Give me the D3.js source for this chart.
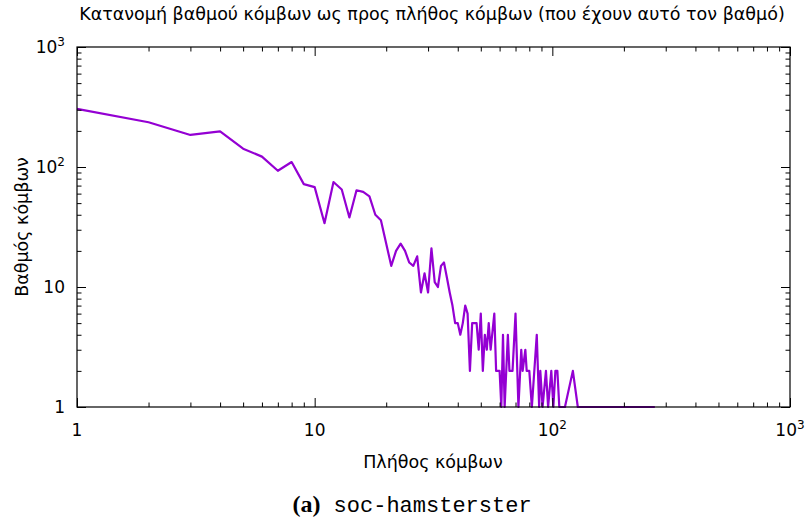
<!DOCTYPE html>
<html>
<head>
<meta charset="utf-8">
<script src="https://cdn.jsdelivr.net/npm/d3@7"></script>
<style>
  body { margin: 0; background: #fff; }
  text { font-family: "DejaVu Sans", sans-serif; fill: #000; }
</style>
</head>
<body>
<svg id="chart" width="806" height="519"></svg>
<script>
// Node count (x) and the degree that many nodes share (y)
const nodeCount = [1,2,3,4,5,6,7,8,9,10,11,12,13,14,15,16,17,18,19,21,22,23,24,25,26,27,28,29,30,
  31,32,33,34,35,36,37,38,39,40,41,42,43,44,45,46,47,48,49,50,51,52,53,54,55,57,58,60,61,62,63,
  65,66,68,70,72,74,75,77,78,80,82,86,88,89,91,94,96,99,101,103,105,107,113,122,128,270];
const degree = [305,236,185,198,142,122,93,110,72,68,34,75,65,38,64,62,57,40,36,15,20,23,20,16,15,18,9,13,9,
  21,11,10,15,16,12,9,7,5,5,4,5,7,6,2,5,5,5,3,6,2,4,3,5,3,6,2,2,1,4,1,
  4,2,2,6,1,3,2,3,2,2,1,4,1,2,1,2,1,2,1,2,2,1,1,2,1,1];

// Decade ticks and their labels (base with optional exponent)
const tickValues = [1, 10, 100, 1000];
const tickBase = ["1", "10", "10", "10"];
const tickSup = ["", "", "2", "3"];
const minorTicks = [2,3,4,5,6,7,8,9,20,30,40,50,60,70,80,90,200,300,400,500,600,700,800,900];

const titleText = "Κατανομή βαθμού κόμβων ως προς πλήθος κόμβων (που έχουν αυτό τον βαθμό)";
const xTitle = "Πλήθος κόμβων";
const yTitle = "Βαθμός κόμβων";
const captionTag = "(a)";
const captionName = "soc-hamsterster";

const svg = d3.select("#chart");
const plotL = 77, plotR = 790, plotT = 47, plotB = 407;

const x = d3.scaleLog().domain([1, 1000]).range([plotL, plotR]);
const y = d3.scaleLog().domain([1, 1000]).range([plotB, plotT]);

const points = nodeCount.map((n, i) => ({ n, d: degree[i] }));

// data line
svg.append("path")
  .datum(points)
  .attr("fill", "none")
  .attr("stroke", "#9400D3")
  .attr("stroke-width", 2.2)
  .attr("stroke-linejoin", "round")
  .attr("d", d3.line().x(p => x(p.n)).y(p => y(p.d)));

// inward ticks on all four sides
function addAxis(gen, tx, ty) {
  const gMaj = svg.append("g").attr("transform", `translate(${tx},${ty})`)
    .call(gen.tickValues(tickValues).tickSizeInner(-9).tickSizeOuter(0).tickFormat(""));
  gMaj.select(".domain").remove();
  gMaj.selectAll("line").attr("stroke", "#000");
  const gMin = svg.append("g").attr("transform", `translate(${tx},${ty})`)
    .call(gen.tickValues(minorTicks).tickSizeInner(-4.5).tickSizeOuter(0).tickFormat(""));
  gMin.select(".domain").remove();
  gMin.selectAll("line").attr("stroke", "#000");
}
addAxis(d3.axisBottom(x), 0, plotB);
addAxis(d3.axisTop(x), 0, plotT);
addAxis(d3.axisLeft(y), plotL, 0);
addAxis(d3.axisRight(y), plotR, 0);

// border
svg.append("rect")
  .attr("x", plotL).attr("y", plotT)
  .attr("width", plotR - plotL).attr("height", plotB - plotT)
  .attr("fill", "none").attr("stroke", "#000").attr("stroke-width", 1.2);

// tick labels
function label(sel, i) {
  sel.append("tspan").text(tickBase[i]);
  if (tickSup[i]) {
    sel.append("tspan").attr("dy", -7).attr("font-size", 12).text(tickSup[i]);
  }
}
tickValues.forEach((v, i) => {
  const t = svg.append("text")
    .attr("x", x(v)).attr("y", 436)
    .attr("font-size", 17)
    .attr("text-anchor", "middle");
  label(t, i);
  const u = svg.append("text")
    .attr("x", 65).attr("y", y(v) + 6)
    .attr("font-size", 17)
    .attr("text-anchor", "end");
  label(u, i);
});

// titles
svg.append("text").attr("x", 432).attr("y", 20)
  .attr("font-size", 17.5).attr("text-anchor", "middle").text(titleText);
svg.append("text").attr("x", 433).attr("y", 468)
  .attr("font-size", 17.5).attr("text-anchor", "middle").text(xTitle);
svg.append("text")
  .attr("transform", `translate(28,${(plotT + plotB) / 2}) rotate(-90)`)
  .attr("font-size", 17.5).attr("text-anchor", "middle").text(yTitle);

// caption
const cap = svg.append("text").attr("x", 412).attr("y", 512).attr("text-anchor", "middle");
cap.append("tspan").attr("font-family", "Liberation Serif, serif").attr("font-weight", "bold")
  .attr("font-size", 24).text(captionTag);
cap.append("tspan").attr("font-family", "Liberation Mono, monospace")
  .attr("font-size", 22).text(" " + captionName);
</script>
</body>
</html>
